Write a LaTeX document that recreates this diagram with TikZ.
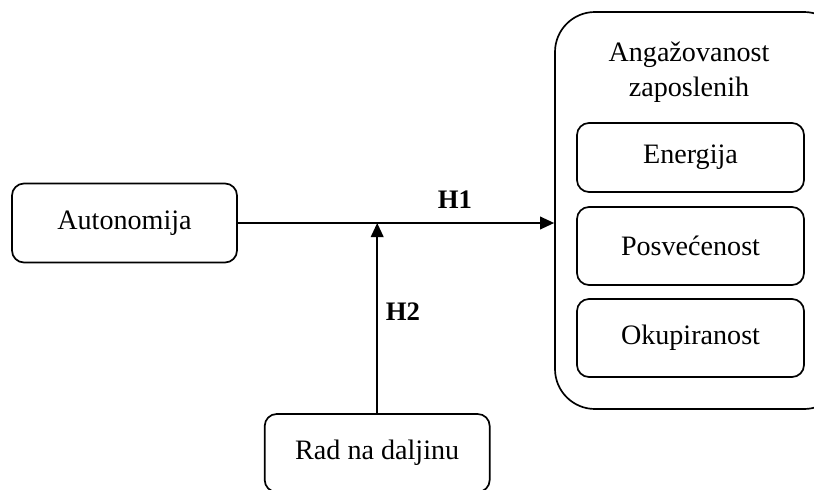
\documentclass[tikz,border=0pt]{standalone}
\usepackage{fontspec}
\setmainfont{Liberation Serif}
\usepackage{tikz}
\usetikzlibrary{positioning,arrows.meta}

\begin{document}
\begin{tikzpicture}[
  box/.style={draw,line width=1.2pt,rounded corners=0.3cm,align=center,
    font=\fontsize{20}{24}\selectfont,inner sep=0pt},
  outerbox/.style={draw,line width=1.2pt,rounded corners=1cm,inner sep=0pt},
  conn/.style={line width=1.2pt,-{Triangle[length=10pt,width=9pt]}},
  hyp/.style={font=\fontsize{19}{23}\selectfont\bfseries}
]
  \useasboundingbox (0,0) rectangle (20.35,12.225);
  \node[box,minimum width=5.625cm,minimum height=1.975cm] (auto) at (3.1125,6.65) {Autonomija};
  \node[box,minimum width=5.625cm,minimum height=1.95cm] (rad) at (9.43,0.9) {Rad na daljinu};
  \node[outerbox,minimum width=7.225cm,minimum height=9.925cm] (angaz) at (17.4875,6.9625) {};
  \node[align=center,font=\fontsize{20}{24.5}\selectfont] (title) at (17.225,10.425) {Angažovanost\\zaposlenih};
  \node[box,minimum width=5.675cm,minimum height=1.725cm] (eng) at (17.2625,8.2875) {Energija};
  \node[box,minimum width=5.675cm,minimum height=1.95cm] (posv) at (17.2625,6.075) {Posvećenost};
  \node[box,minimum width=5.675cm,minimum height=1.95cm] (okup) at (17.2625,3.775) {Okupiranost};

  \draw[conn] (auto.east) -- (auto.east -| angaz.west);
  \draw[conn] (rad.north) -- (rad.north |- auto.east);

  \node[hyp] (h1) at (11.375,7.225) {H1};
  \node[hyp] (h2) at (10.075,4.425) {H2};
\end{tikzpicture}
\end{document}
